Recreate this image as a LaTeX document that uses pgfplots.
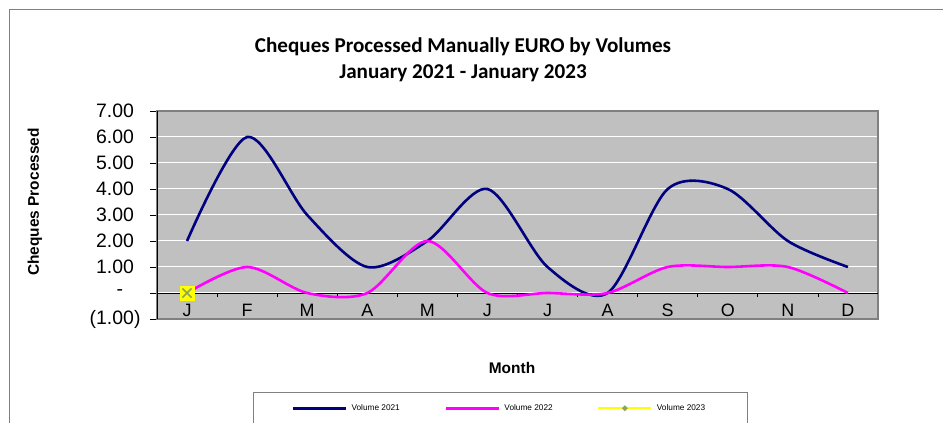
\documentclass[border=0pt]{standalone}
\usepackage{pgfplots}
\pgfplotsset{compat=1.18}
\usepackage{pgfplotstable}
\usepackage{fontspec}
\setmainfont{Liberation Sans}
\newfontfamily\calibri{Carlito}
\definecolor{plotbg}{HTML}{C0C0C0}
\definecolor{navyline}{HTML}{000080}
\definecolor{magline}{HTML}{FF00FF}
\definecolor{yelline}{HTML}{FFFF00}
\definecolor{markx}{RGB}{140,165,90}
\definecolor{framegray}{HTML}{808080}

\pgfplotstableread{
x v21 v22
0 2 0
1 6 1
2 3 0
3 1 0
4 2 2
5 4 0
6 1 0
7 0 0
8 4 1
9 4 1
10 2 1
11 1 0
}\datatable

\begin{document}
\begin{tikzpicture}
\useasboundingbox (0,0) rectangle (943bp,423bp);
\draw[framegray, line width=1bp] (9bp,-20bp) -- (9bp,413bp) -- (960bp,413bp);
\node[anchor=base, font=\calibri\bfseries\fontsize{21.2}{24}\selectfont] at (463bp,370bp) {Cheques Processed Manually EURO by Volumes};
\node[anchor=base, font=\calibri\bfseries\fontsize{21.2}{24}\selectfont] at (463bp,344bp) {January 2021 - January 2023};

\begin{axis}[
  at={(157bp,104bp)}, anchor=south west,
  scale only axis, width=721bp, height=208bp,
  xmin=-0.5, xmax=11.5, ymin=-1, ymax=7,
  axis background/.style={fill=plotbg},
  axis line style={draw=framegray, line width=2bp},
  xtick=\empty,
  ytick={-1,0,1,2,3,4,5,6,7},
  yticklabels={(1.00),-\hphantom{0)},1.00\hphantom{)},2.00\hphantom{)},3.00\hphantom{)},4.00\hphantom{)},5.00\hphantom{)},6.00\hphantom{)},7.00\hphantom{)}},
  ytick pos=left,
  tick align=outside,
  major tick length=7bp,
  y tick style={black, line width=0.8bp},
  yticklabel style={font=\fontsize{19.5}{22}\selectfont, anchor=east, xshift=-6bp},
  ymajorgrids, grid style={white, line width=1bp},
  ylabel={Cheques Processed},
  every axis y label/.style={at={(axis description cs:-0.1692,0.5625)}, rotate=90, anchor=center, font=\bfseries\fontsize{15.5}{18}\selectfont},
]
\draw[black, line width=1bp] (rel axis cs:0,0) -- (rel axis cs:0,1);
\end{axis}

\begin{axis}[
  at={(157bp,104bp)}, anchor=south west,
  scale only axis, width=721bp, height=208bp,
  xmin=-0.5, xmax=11.5, ymin=-1, ymax=7,
  axis x line=middle, axis y line=none,
  axis line style={-, black, line width=0.8bp},
  hide obscured x ticks=false,
  xtick={0,...,11}, xticklabels={J,F,M,A,M,J,J,A,S,O,N,D},
  major tick length=0pt,
  minor xtick={0.5,1.5,...,10.5},
  minor tick length=4bp, tick align=outside,
  minor x tick style={black, line width=0.8bp},
  xticklabel style={font=\fontsize{18}{20}\selectfont, anchor=base, text height=0pt, text depth=0pt},
  xticklabel shift=23bp,
  clip=false,
  xlabel={Month},
  every axis x label/.style={at={(axis description cs:0.4924,-0.2356)}, anchor=center, font=\bfseries\fontsize{15.5}{18}\selectfont},
  legend columns=3,
  legend cell align=left,
  legend style={at={(axis description cs:0.1331,-0.351)}, anchor=north west,
    draw=framegray, line width=1bp, font=\fontsize{8.3}{10}\selectfont,
    inner xsep=38bp, inner ysep=10bp,
    nodes={inner xsep=4.5bp},
    /tikz/every even column/.append style={column sep=40bp}},
  legend image code/.code={\draw[mark repeat=2,mark phase=2,#1] plot coordinates {(2bp,0bp) (28.5bp,0bp) (55bp,0bp)};},
]
\addplot[navyline, line width=2.6bp, smooth, tension=0.5] table[x=x,y=v21] {\datatable};
\addlegendentry{Volume 2021}
\addplot[magline, line width=2.6bp, smooth, tension=0.5] table[x=x,y=v22] {\datatable};
\addlegendentry{Volume 2022}
\addlegendimage{yelline, line width=2.2bp, mark=*, mark size=1.5bp, mark options={draw=markx, fill=markx}}
\addlegendentry{Volume 2023}
\addplot[forget plot, only marks, mark=square*, mark size=7bp, mark options={draw=yelline, fill=yelline}] coordinates {(0,0)};
\addplot[forget plot, only marks, mark=x, mark size=6.5bp, mark options={draw=markx, line width=1.5bp}] coordinates {(0,0)};
\end{axis}
\end{tikzpicture}
\end{document}
